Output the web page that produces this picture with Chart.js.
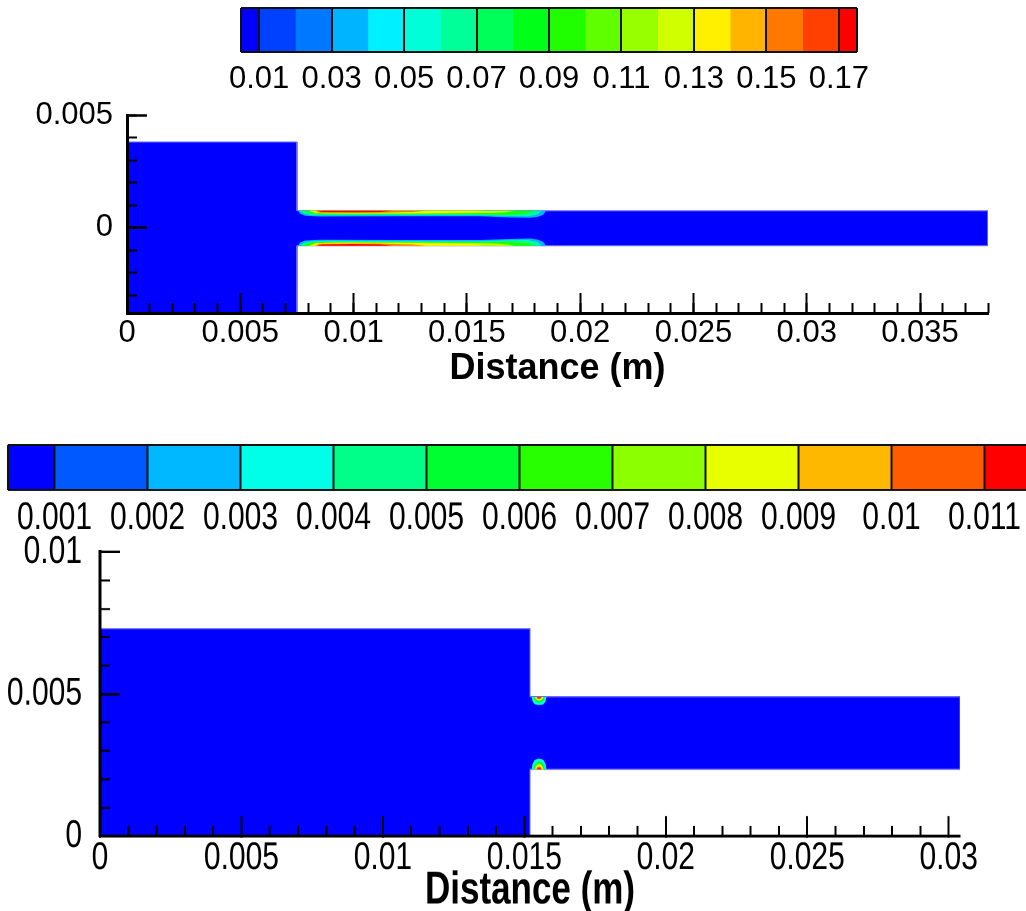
<!DOCTYPE html>
<html>
<head>
<meta charset="utf-8">
<title>Contour plots</title>
<script src="https://cdn.jsdelivr.net/npm/chart.js@4.4.0/dist/chart.umd.min.js"></script>
<style>
  html, body { margin: 0; padding: 0; background: #fff; }
  body { position: relative; width: 1026px; height: 911px; overflow: hidden; }
  canvas { position: absolute; left: 0; top: 0; }
</style>
</head>
<body>
<canvas id="barTop" width="1026" height="911"></canvas>
<canvas id="plotTop" width="1026" height="911"></canvas>
<!-- lower figure uses tall lettering: its canvases are stretched vertically by 1.3 -->
<canvas id="barBottom" width="1040" height="720" style="width:1040px;height:936px"></canvas>
<canvas id="plotBottom" width="1026" height="720" style="width:1026px;height:936px"></canvas>
<script>
// ---------- upper plot: legend levels ----------
const topLevels = [0.01, 0.02, 0.03, 0.04, 0.05, 0.06, 0.07, 0.08, 0.09,
                   0.10, 0.11, 0.12, 0.13, 0.14, 0.15, 0.16, 0.17];
const topColors = ['#0000FF', '#0040FF', '#0078FF', '#00B4FF', '#00F0FF', '#00FFD8',
                   '#00FF98', '#00FF58', '#00FF18', '#20FF00', '#60FF00', '#98FF00',
                   '#D0FF00', '#FFF000', '#FFB400', '#FF7800', '#FF4000', '#FF0000'];
const topBarRange = [0.005, 0.175];
const topBarLabels = ['0.01', '0.03', '0.05', '0.07', '0.09', '0.11', '0.13', '0.15', '0.17'];

// ---------- upper plot: geometry (m) ----------
const topXLabels = ['0', '0.005', '0.01', '0.015', '0.02', '0.025', '0.03', '0.035'];
const topYLabels = ['0', '0.005'];
const topXRange = [0, 0.038];
const topYRange = [-0.0038, 0.005];
const topWallUpper = 0.00074;
const topWallLower = -0.00081;
const topDomainX = [0, 0, 0.0075, 0.0075, 0.038, 0.038, 0.0075, 0.0075];
const topDomainY = [-0.0038, 0.0038, 0.0038, topWallUpper, topWallUpper, topWallLower, topWallLower, -0.0038];

// wall layers: contour level, x stations and distance from the wall
const topContourLevels = [0.03, 0.06, 0.09, 0.12, 0.13, 0.15, 0.17];
const topContourX = [
  [0.00755, 0.00764, 0.00786, 0.0085, 0.0120, 0.0156, 0.0169, 0.0178, 0.0181, 0.01836, 0.0185],
  [0.0076, 0.0078, 0.0082, 0.0090, 0.0120, 0.0155, 0.0169, 0.0177, 0.0181, 0.0183],
  [0.0077, 0.0080, 0.0085, 0.0120, 0.0155, 0.0168, 0.0176, 0.0180],
  [0.0080, 0.0083, 0.0090, 0.0130, 0.0158, 0.0166, 0.0171],
  [0.0081, 0.0084, 0.0100, 0.0140, 0.0152, 0.0157],
  [0.0083, 0.0085, 0.0110, 0.0126, 0.0132],
  [0.0084, 0.0086, 0.0100, 0.0112, 0.0117]
];
const topUpperDepth = [
  [0, 0.00013, 0.00022, 0.00025, 0.00024, 0.00024, 0.00029, 0.00031, 0.00027, 0.00018, 0],
  [0, 0.00012, 0.00019, 0.00020, 0.00019, 0.00019, 0.00023, 0.00024, 0.00016, 0],
  [0, 0.00010, 0.00015, 0.00015, 0.00015, 0.00017, 0.00012, 0],
  [0, 0.00010, 0.00012, 0.00012, 0.00010, 0.00007, 0],
  [0, 0.00010, 0.00011, 0.00009, 0.00006, 0],
  [0, 0.00008, 0.00008, 0.00005, 0],
  [0, 0.00005, 0.00006, 0.00005, 0]
];
const topLowerDepth = [
  [0, 0.00014, 0.00023, 0.00027, 0.00026, 0.00025, 0.00030, 0.00032, 0.00028, 0.00018, 0],
  [0, 0.00013, 0.00020, 0.00022, 0.00021, 0.00020, 0.00024, 0.00025, 0.00017, 0],
  [0, 0.00011, 0.00017, 0.00017, 0.00016, 0.00018, 0.00013, 0],
  [0, 0.00011, 0.00014, 0.00013, 0.00011, 0.00008, 0],
  [0, 0.00011, 0.00013, 0.00010, 0.00007, 0],
  [0, 0.00009, 0.00010, 0.00006, 0],
  [0, 0.00006, 0.00008, 0.00006, 0]
];

// ---------- lower plot: legend levels ----------
const botLevels = [0.001, 0.002, 0.003, 0.004, 0.005, 0.006, 0.007, 0.008, 0.009, 0.010, 0.011];
const botColors = ['#0000FF', '#0058FF', '#00B8FF', '#00FFE8', '#00FF88', '#00FF30',
                   '#28FF00', '#8CFF00', '#E8FF00', '#FFB800', '#FF5C00', '#FF0000'];
const botBarRange = [0.0005, 0.0115];
const botBarLabels = ['0.001', '0.002', '0.003', '0.004', '0.005', '0.006',
                      '0.007', '0.008', '0.009', '0.01', '0.011'];

// ---------- lower plot: geometry (m) ----------
const botXLabels = ['0', '0.005', '0.01', '0.015', '0.02', '0.025', '0.03'];
const botYLabels = ['0', '0.005', '0.01'];
const botXRange = [0, 0.0304];
const botYRange = [0, 0.01];
const botWallUpper = 0.0049;
const botWallLower = 0.00235;
const botDomainX = [0, 0, 0.0152, 0.0152, 0.0304, 0.0304, 0.0152, 0.0152];
const botDomainY = [0, 0.0073, 0.0073, botWallUpper, botWallUpper, botWallLower, botWallLower, 0];

// spots at the step corner
const blobLevels = [0.003, 0.005, 0.008, 0.01, 0.011];
const blobX = [
  [0.01526, 0.01529, 0.01537, 0.01552, 0.01567, 0.01575, 0.01578],
  [0.01531, 0.01535, 0.01543, 0.01552, 0.01561, 0.01569, 0.01573],
  [0.01536, 0.01540, 0.01546, 0.01552, 0.01558, 0.01564, 0.01568],
  [0.01542, 0.01546, 0.01552, 0.01558, 0.01562],
  [0.01545, 0.01552, 0.01559]
];
const blobUpperDepth = [
  [0, 0.00016, 0.00026, 0.00029, 0.00026, 0.00016, 0],
  [0, 0.00012, 0.00019, 0.00021, 0.00019, 0.00012, 0],
  [0, 0.00008, 0.00012, 0.00014, 0.00012, 0.00008, 0],
  [0, 0.00006, 0.00008, 0.00006, 0],
  [0, 0.00005, 0]
];
const blobLowerDepth = [
  [0, 0.00019, 0.00033, 0.00037, 0.00033, 0.00019, 0],
  [0, 0.00015, 0.00026, 0.00029, 0.00026, 0.00015, 0],
  [0, 0.00010, 0.00017, 0.00019, 0.00017, 0.00010, 0],
  [0, 0.00008, 0.00010, 0.00008, 0],
  [0, 0.00006, 0]
];

const FONT = "'Liberation Sans', Arial, Helvetica, sans-serif";
Chart.defaults.font.family = FONT;
Chart.defaults.color = '#000';

const STRETCH = 1.3; // vertical stretch of the lower canvases

// colour of the band a level falls into
function colorFor(level, levels, colors) {
  let i = 0;
  while (i < levels.length && levels[i] <= level + 1e-9) i++;
  return colors[i];
}

function polygon(xs, ys, color, edge) {
  return {
    data: xs.map((x, i) => ({x: x, y: ys[i]})),
    backgroundColor: color,
    borderColor: edge || 'rgba(0,0,0,0)',
    borderWidth: edge ? 1 : 0,
    pointRadius: 0,
    tension: 0,
    fill: 'shape'
  };
}

// closed contour hugging a wall; dir = -1 grows downward, +1 upward
function wallContours(levels, xs, depths, wall, dir, scaleLevels, scaleColors) {
  return levels.map((lv, k) => polygon(xs[k], depths[k].map(d => wall + dir * d),
                                       colorFor(lv, scaleLevels, scaleColors)));
}

function keepMultiples(step) {
  return function (scale) {
    scale.ticks = scale.ticks.filter(t => Math.abs(t.value / step - Math.round(t.value / step)) < 1e-6);
  };
}

function colorBar(id, levels, colors, range, labels, lay) {
  const edges = [range[0]].concat(levels, [range[1]]);
  const tickValues = [range[0]].concat(labels.map(Number), [range[1]]);
  const datasets = colors.map((c, i) => ({
    data: [[edges[i], edges[i + 1]]],
    backgroundColor: c,
    borderWidth: 0,
    grouped: false,
    barPercentage: 1,
    categoryPercentage: 1
  }));
  new Chart(document.getElementById(id), {
    type: 'bar',
    data: {labels: [''], datasets: datasets},
    options: {
      indexAxis: 'y',
      responsive: false,
      devicePixelRatio: lay.dpr || 1,
      animation: false,
      events: [],
      layout: {padding: lay.padding},
      plugins: {legend: {display: false}, tooltip: {enabled: false}},
      scales: {
        x: {
          type: 'linear', min: range[0], max: range[1],
          afterBuildTicks: s => { s.ticks = tickValues.map(v => ({value: v})); },
          ticks: {
            autoSkip: false, maxRotation: 0, minRotation: 0, padding: lay.labelPad,
            font: {size: lay.fontSize}, color: '#000', z: 1,
            callback: (v, i) => (i === 0 || i === tickValues.length - 1) ? '' : labels[i - 1]
          },
          grid: {color: '#111', lineWidth: 2, drawTicks: false, z: 1},
          border: {display: false},
          afterFit: s => { s.height = lay.axisHeight; }
        },
        y: {
          ticks: {display: false},
          grid: {color: '#111', lineWidth: lay.edgeWidth, drawTicks: false, z: 1},
          border: {display: false},
          afterFit: s => { s.width = 0; }
        }
      }
    }
  });
}

function plot(id, regions, o) {
  // first region is painted first
  const datasets = regions.map((r, i) => Object.assign(r, {order: regions.length - i}));
  const tickFont = {size: o.fontSize};
  const sy = o.stretch || 1;
  new Chart(document.getElementById(id), {
    type: 'line',
    data: {datasets: datasets},
    options: {
      responsive: false,
      devicePixelRatio: o.dpr || 1,
      animation: false,
      events: [],
      layout: {padding: o.padding},
      plugins: {legend: {display: false}, tooltip: {enabled: false}},
      scales: {
        x: {
          type: 'linear', position: 'bottom', weight: 1,
          min: o.xRange[0], max: o.xRange[1],
          afterBuildTicks: s => { s.ticks = o.xLabels.map(t => ({value: Number(t)})); },
          ticks: {autoSkip: false, maxRotation: 0, minRotation: 0, padding: o.xLabelPad,
                  font: tickFont, color: '#000', z: 1, callback: (v, i) => o.xLabels[i]},
          grid: {drawOnChartArea: false, tickLength: -20 / sy, tickWidth: 2, tickColor: '#000', z: 1},
          border: {display: true, color: '#000', width: 3 / sy, z: 1},
          title: {display: true, text: 'Distance (m)', color: '#000',
                  font: {size: o.titleSize, weight: 'bold'}, padding: {top: 0, bottom: o.titlePad}},
          afterFit: s => { s.height = o.xAxisHeight; }
        },
        xMinor: {
          type: 'linear', position: 'bottom', weight: 0,
          min: o.xRange[0], max: o.xRange[1],
          ticks: {display: false, stepSize: 0.001},
          afterBuildTicks: keepMultiples(0.001),
          grid: {drawOnChartArea: false, tickLength: -10 / sy, tickWidth: 2, tickColor: '#000', z: 1},
          border: {display: false},
          afterFit: s => { s.height = 0; }
        },
        y: {
          type: 'linear', position: 'left', weight: 1,
          min: o.yRange[0], max: o.yRange[1],
          afterBuildTicks: s => { s.ticks = o.yLabels.map(t => ({value: Number(t)})); },
          ticks: {autoSkip: false, padding: o.yLabelPad, font: tickFont, color: '#000', z: 1,
                  callback: (v, i) => o.yLabels[i]},
          grid: {drawOnChartArea: false, tickLength: -20, tickWidth: 2.5 / sy, tickColor: '#000', z: 1},
          border: {display: true, color: '#000', width: 3, z: 1},
          afterFit: s => { s.width = o.yAxisWidth; }
        },
        yMinor: {
          type: 'linear', position: 'left', weight: 0,
          min: o.yRange[0], max: o.yRange[1],
          ticks: {display: false, stepSize: 0.001},
          afterBuildTicks: keepMultiples(0.001),
          grid: {drawOnChartArea: false, tickLength: -10, tickWidth: 2 / sy, tickColor: '#000', z: 1},
          border: {display: false},
          afterFit: s => { s.width = 0; }
        }
      }
    }
  });
}

const DOMAIN_EDGE = '#6a6aff';

// upper figure
colorBar('barTop', topLevels, topColors, topBarRange, topBarLabels, {
  padding: {left: 241, right: 169, top: 8, bottom: 811}, axisHeight: 48,
  labelPad: 9, fontSize: 31, edgeWidth: 2
});

plot('plotTop', [
  polygon(topDomainX, topDomainY, topColors[0], DOMAIN_EDGE),
  ...wallContours(topContourLevels, topContourX, topUpperDepth, topWallUpper, -1, topLevels, topColors),
  ...wallContours(topContourLevels, topContourX, topLowerDepth, topWallLower, 1, topLevels, topColors)
], {
  padding: {left: 0, right: 38, top: 115, bottom: 501},
  xRange: topXRange, yRange: topYRange, xLabels: topXLabels, yLabels: topYLabels,
  xAxisHeight: 97, yAxisWidth: 127, xLabelPad: 22, yLabelPad: 34, titlePad: 19,
  fontSize: 31, titleSize: 36
});

// lower figure (layout in unstretched canvas units, canvas height 720)
colorBar('barBottom', botLevels, botColors, botBarRange, botBarLabels, {
  padding: {left: 8, right: 9, top: 342.3, bottom: 303.1}, axisHeight: 40,
  labelPad: 3.6, fontSize: 30, edgeWidth: 2 / STRETCH, dpr: 2
});

plot('plotBottom', [
  polygon(botDomainX, botDomainY, botColors[0], DOMAIN_EDGE),
  ...wallContours(blobLevels, blobX, blobUpperDepth, botWallUpper, -1, botLevels, botColors),
  ...wallContours(blobLevels, blobX, blobLowerDepth, botWallLower, 1, botLevels, botColors)
], {
  padding: {left: 0, right: 66, top: 424.6, bottom: 6.9},
  xRange: botXRange, yRange: botYRange, xLabels: botXLabels, yLabels: botYLabels,
  xAxisHeight: 70, yAxisWidth: 100, xLabelPad: 14.3, yLabelPad: 38, titlePad: 6.7,
  fontSize: 30, titleSize: 35, stretch: STRETCH, dpr: 2
});
</script>
</body>
</html>
